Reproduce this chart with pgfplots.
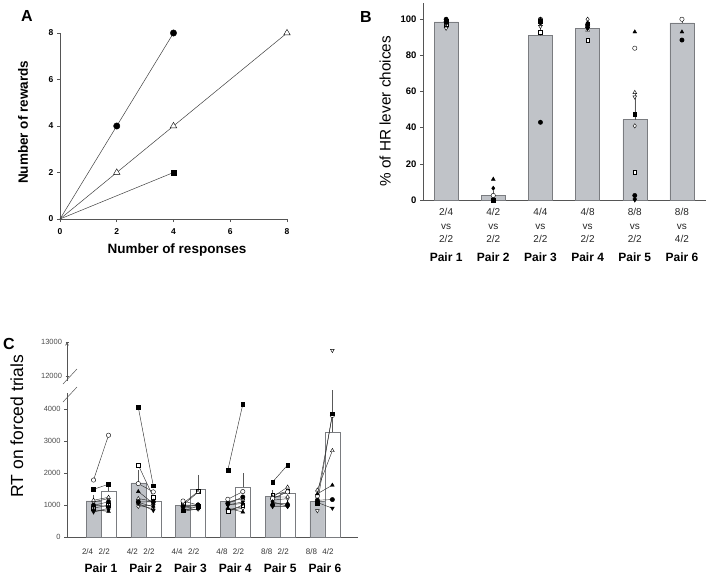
\documentclass[border=0pt]{standalone}
\usepackage{pgfplots}
\pgfplotsset{compat=1.18}
\usepackage{fontspec}
\setmainfont{Liberation Sans}
\definecolor{barg}{HTML}{C0C3C8}
\definecolor{edg}{HTML}{7A7C80}
\definecolor{axg}{HTML}{555555}
\pgfplotsset{
  myaxis/.style={scale only axis, axis lines=left, axis line style={-, draw=axg, line width=0.6pt},
    enlargelimits=false, tick align=outside, major tick length=3pt,
    tick style={draw=axg, line width=0.6pt}, /pgf/number format/assume math mode=true,
    /pgf/number format/1000 sep={}, scaled ticks=false, clip=false},
  mFC/.style={mark=*, mark options={fill=black, draw=black, line width=0.4pt}},
  mOC/.style={mark=*, mark options={fill=white, draw=black, line width=0.4pt}},
  mFS/.style={mark=square*, mark options={fill=black, draw=black, line width=0.4pt, scale=0.85}},
  mOS/.style={mark=square*, mark options={fill=white, draw=black, line width=0.4pt, scale=0.85}},
  mFT/.style={mark=triangle*, mark options={fill=black, draw=black, line width=0.4pt}},
  mOT/.style={mark=triangle*, mark options={fill=white, draw=black, line width=0.4pt}},
  mFD/.style={mark=triangle*, mark options={rotate=180, fill=black, draw=black, line width=0.4pt}},
  mOD/.style={mark=triangle*, mark options={rotate=180, fill=white, draw=black, line width=0.4pt}},
  mFDm/.style={mark=diamond*, mark options={fill=black, draw=black, line width=0.4pt}},
  mODm/.style={mark=diamond*, mark options={fill=white, draw=black, line width=0.4pt}},
}
\begin{document}
\begin{tikzpicture}
\path[use as bounding box] (0pt,0pt) rectangle (707pt,-575pt);

% ---------------- Panel A ----------------
\node[font=\fontsize{16}{18}\selectfont\bfseries] at (27pt,-16pt) {A};
\begin{axis}[myaxis, at={(60pt,-219pt)}, anchor=south west, width=227pt, height=186pt,
  xmin=0, xmax=8, ymin=0, ymax=8, xtick={0,2,...,8}, ytick={0,2,...,8},
  tick label style={font=\fontsize{8.5}{10}\selectfont\bfseries},
  xticklabel style={yshift=-3pt},
  xlabel={Number of responses}, ylabel={Number of rewards},
  label style={font=\fontsize{13.5}{16}\selectfont\bfseries},
  xlabel style={at={(axis description cs:0.515,-0.165)}, anchor=center},
  ylabel style={at={(axis description cs:-0.163,0.52)}, anchor=center}]
\addplot[black!75, line width=0.5pt, mFC, mark size=3.2pt, mark indices={2,3}] coordinates {(0,0) (2,4) (4,8)};
\addplot[black!75, line width=0.5pt, mOT, mark size=3.7pt, mark indices={2,3,4}] coordinates {(0,0) (2,2) (4,4) (8,8)};
\addplot[black!75, line width=0.5pt, mFS, mark size=3pt, mark indices={2}] coordinates {(0,0) (4,2)};
\end{axis}

% ---------------- Panel B ----------------
\node[font=\fontsize{16}{18}\selectfont\bfseries] at (366pt,-17pt) {B};
\begin{axis}[myaxis, at={(423pt,-200pt)}, anchor=south west, width=283pt, height=197pt,
  xmin=0.51, xmax=6.51, ymin=0, ymax=109,
  ytick={0,20,...,100}, xtick={1,...,6}, major x tick style={draw=none},
  xticklabels={{2/4\\vs\\2/2},{4/2\\vs\\2/2},{4/4\\vs\\2/2},{4/8\\vs\\2/2},{8/8\\vs\\2/2},{8/8\\vs\\4/2}},
  xticklabel style={align=center, font=\fontsize{10}{13.5}\selectfont, text=black!85, yshift=-2pt},
  yticklabel style={font=\fontsize{9.5}{11}\selectfont\bfseries},
  extra x ticks={1,...,6}, extra x tick labels={Pair 1,Pair 2,Pair 3,Pair 4,Pair 5,Pair 6},
  extra x tick style={major tick length=0pt, xticklabel style={yshift=-47pt, font=\fontsize{12}{14}\selectfont\bfseries, text=black}},
  ylabel={\% of HR lever choices},
  ylabel style={font=\fontsize{15.3}{18}\selectfont, at={(axis description cs:-0.134,0.45)}, anchor=center}]
\addplot[ybar, bar width=0.51, bar shift=0pt, fill=barg, draw=edg, line width=0.4pt,
  error bars/.cd, y dir=plus, y explicit, error bar style={draw=black!65, line width=0.5pt},
  error mark options={draw=black!65, mark size=2.5pt, line width=0.5pt}]
  coordinates {(1,98.5) +- (0,1) (2,2.5) +- (0,1) (3,91) +- (0,6) (4,95) +- (0,2) (5,44.5) +- (0,13.5) (6,98) +- (0,1.5)};
\addplot[only marks, mark size=2.2pt, mOT] coordinates {(1,96) (2,0) (3,97) (4,94) (5,59.5)};
\addplot[only marks, mark size=2.2pt, mOD] coordinates {(1,95) (2,0) (3,96) (4,95) (5,57)};
\addplot[only marks, mark size=2.2pt, mOS] coordinates {(1,97) (2,0) (3,93) (4,88.5) (5,15.5)};
\addplot[only marks, mark size=2.2pt, mODm] coordinates {(1,97.5) (2,1) (3,99.5) (4,100) (5,41)};
\addplot[only marks, mark size=2.2pt, mOC] coordinates {(1,98.5) (2,2.5) (3,100) (4,96) (5,84) (6,100)};
\addplot[only marks, mark size=2.2pt, mFD] coordinates {(1,98) (2,0) (3,98) (4,95) (5,0)};
\addplot[only marks, mark size=2.2pt, mFDm] coordinates {(1,100) (2,6.5) (3,99) (4,98) (5,0.5)};
\addplot[only marks, mark size=2.2pt, mFS] coordinates {(1,99) (2,0) (3,99) (4,97.5) (5,47.5)};
\addplot[only marks, mark size=2.2pt, mFT] coordinates {(1,99.5) (2,11.5) (3,100) (4,96) (5,93) (6,93)};
\addplot[only marks, mark size=2.2pt, mFC] coordinates {(1,100) (2,0) (3,43) (4,97) (5,2.5) (6,88.5)};
\end{axis}

% ---------------- Panel C ----------------
\node[font=\fontsize{16}{18}\selectfont\bfseries] at (9pt,-344pt) {C};
\begin{axis}[myaxis, at={(67pt,-537pt)}, anchor=south west, width=291pt, height=144pt,
  xmin=0.24, xmax=6.74, ymin=0, ymax=4500, ytick={0,1000,...,4000},
  xtick={0.7,1.07,1.7,2.07,2.7,3.07,3.7,4.07,4.7,5.07,5.7,6.07},
  xticklabels={2/4,2/2,4/2,2/2,4/4,2/2,4/8,2/2,8/8,2/2,8/8,4/2},
  major x tick style={draw=none},
  xticklabel style={font=\fontsize{8}{9}\selectfont, text=black!80, yshift=-5pt},
  yticklabel style={font=\fontsize{7.5}{9}\selectfont, text=black!70},
  extra x ticks={1,...,6}, extra x tick labels={Pair 1,Pair 2,Pair 3,Pair 4,Pair 5,Pair 6},
  extra x tick style={major tick length=0pt, xticklabel style={yshift=-18pt, font=\fontsize{12}{14}\selectfont\bfseries, text=black}},
  ylabel={RT on forced trials},
  ylabel style={font=\fontsize{17.5}{20}\selectfont, at={(axis description cs:-0.172,0.77)}, anchor=center},
  unbounded coords=jump]
\addplot[ybar, bar width=0.335, bar shift=0pt, fill=barg, draw=edg, line width=0.4pt,
  error bars/.cd, y dir=plus, y explicit, error bar style={draw=black!65, line width=0.5pt},
  error mark options={draw=black!65, mark size=2.5pt, line width=0.5pt}]
  coordinates {(0.8325,1130) +- (0,110) (1.8325,1690) +- (0,320) (2.8325,990) +- (0,60)
               (3.8325,1110) +- (0,70) (4.8325,1280) +- (0,110) (5.8325,1120) +- (0,60)};
\addplot[ybar, bar width=0.335, bar shift=0pt, fill=white, draw=edg, line width=0.4pt,
  error bars/.cd, y dir=plus, y explicit, error bar style={draw=black!65, line width=0.5pt},
  error mark options={draw=black!65, mark size=2.5pt, line width=0.5pt}]
  coordinates {(1.1675,1440) +- (0,70) (2.1675,1120) +- (0,50) (3.1675,1490) +- (0,370)
               (4.1675,1550) +- (0,360) (5.1675,1380) +- (0,40) (6.1675,3290) +- (0,1220)};
\addplot[black!80, line width=0.45pt, mark size=2.2pt, mOD] coordinates {(0.8325,780) (1.1675,900) (1,nan) (1.8325,1000) (2.1675,880) (2,nan) (2.8325,850) (3.1675,870) (3,nan) (3.8325,850) (4.1675,950) (4,nan) (4.8325,1150) (5.1675,1200) (5,nan) (5.8325,820)};
\addplot[black!80, line width=0.45pt, mark size=2.2pt, mODm] coordinates {(0.8325,1100) (1.1675,1200) (1,nan) (1.8325,960) (2.1675,1000) (2,nan) (2.8325,1000) (3.1675,1000) (3,nan) (3.8325,820) (4.1675,900) (4,nan) (4.8325,1250) (5.1675,1250)};
\addplot[black!80, line width=0.45pt, mark size=2.2pt, mOS] coordinates {(0.8325,900) (1.1675,1000) (1,nan) (1.8325,2250) (2.1675,1250) (2,nan) (2.8325,1050) (3.1675,1420) (3,nan) (3.8325,800) (4.1675,1000) (4,nan) (4.8325,1320) (5.1675,1420)};
\addplot[black!80, line width=0.45pt, mark size=2.2pt, mOT] coordinates {(0.8325,1150) (1.1675,1240) (1,nan) (1.8325,1200) (2.1675,1120) (2,nan) (2.8325,1000) (3.1675,1400) (3,nan) (3.8325,1100) (4.1675,1200) (4,nan) (4.8325,1250) (5.1675,1560) (5,nan) (5.8325,1470) (6.1675,2700)};
\addplot[black!80, line width=0.45pt, mark size=2.2pt, mOC] coordinates {(0.8325,1780) (1.1675,3180) (1,nan) (1.8325,1670) (2.1675,1410) (2,nan) (2.8325,1125) (3.1675,1000) (3,nan) (3.8325,1180) (4.1675,1420) (4,nan) (4.8325,1200) (5.1675,1410) (5,nan) (5.8325,1280) (6.1675,3800)};
\addplot[black!80, line width=0.45pt, mark size=2.2pt, mFD] coordinates {(0.8325,800) (1.1675,850) (1,nan) (1.8325,1050) (2.1675,830) (2,nan) (2.8325,900) (3.1675,950) (3,nan) (3.8325,1000) (4.1675,1100) (4,nan) (4.8325,950) (5.1675,950) (5,nan) (5.8325,1080) (6.1675,900)};
\addplot[black!80, line width=0.45pt, mark size=2.2pt, mFDm] coordinates {(0.8325,1000) (1.1675,950) (1,nan) (1.8325,1080) (2.1675,950) (2,nan) (2.8325,930) (3.1675,1000) (3,nan) (3.8325,1000) (4.1675,1050) (4,nan) (4.8325,1100) (5.1675,960)};
\addplot[black!80, line width=0.45pt, mark size=2.2pt, mFT] coordinates {(0.8325,850) (1.1675,800) (1,nan) (1.8325,1420) (2.1675,1050) (2,nan) (2.8325,800) (3.1675,880) (3,nan) (3.8325,900) (4.1675,780) (4,nan) (4.8325,1050) (5.1675,1050) (5,nan) (5.8325,1350) (6.1675,1620)};
\addplot[black!80, line width=0.45pt, mark size=2.2pt, mFC] coordinates {(0.8325,990) (1.1675,1100) (1,nan) (1.8325,1100) (2.1675,1100) (2,nan) (2.8325,950) (3.1675,1000) (3,nan) (3.8325,1050) (4.1675,1250) (4,nan) (4.8325,1000) (5.1675,1000) (5,nan) (5.8325,1150) (6.1675,1170)};
\addplot[black!80, line width=0.45pt, mark size=2.2pt, mFS] coordinates {(0.8325,1490) (1.1675,1650) (1,nan) (1.8325,4050) (2.1675,1600) (2,nan) (2.8325,820) (3.1675,960) (3,nan) (3.8325,2090) (4.1675,4150) (4,nan) (4.8325,1720) (5.1675,2250) (5,nan) (5.8325,1050) (6.1675,3850)};
\end{axis}
\begin{axis}[myaxis, at={(67pt,-381pt)}, anchor=south west, width=291pt, height=39.1pt,
  xmin=0.24, xmax=6.74, ymin=11850, ymax=13000, ytick={12000,13000},
  axis x line=none, axis y line=left,
  yticklabel style={font=\fontsize{7.5}{9}\selectfont, text=black!70}]
\addplot[only marks, mark size=2.2pt, mOD] coordinates {(6.1675,12750)};
\end{axis}
\draw[axg, line width=0.5pt] (63pt,-384pt) -- (77pt,-369pt);
\draw[axg, line width=0.5pt] (63pt,-402pt) -- (77pt,-387pt);
\end{tikzpicture}
\end{document}
